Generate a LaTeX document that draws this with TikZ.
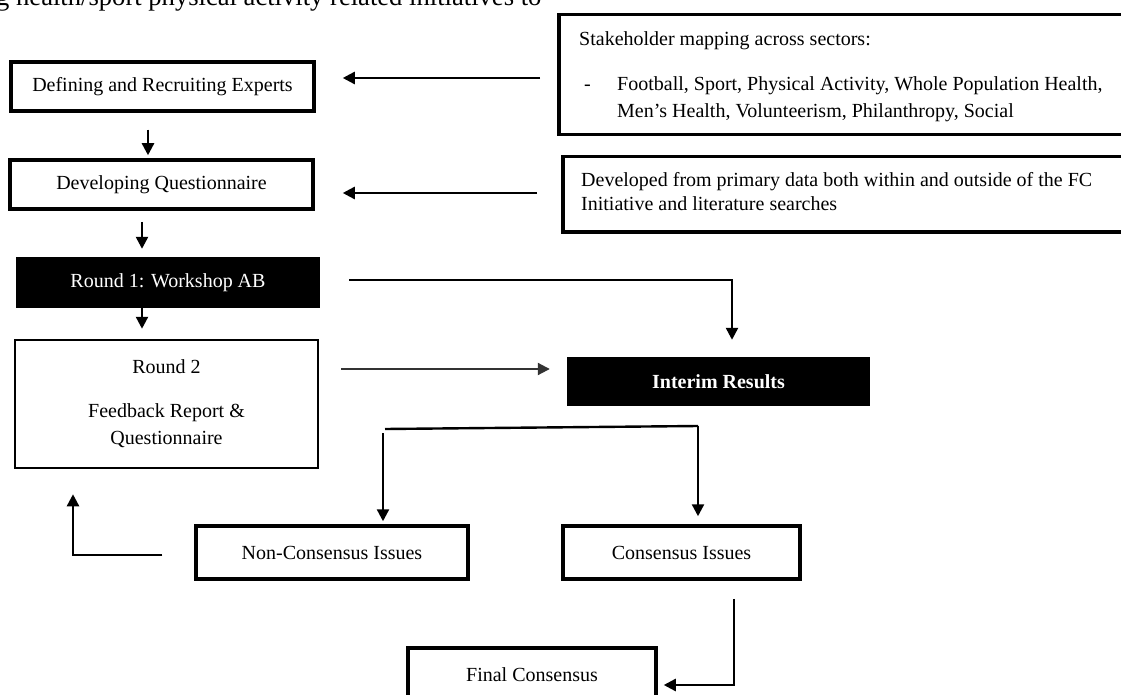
\documentclass[tikz,border=0pt]{standalone}
\usepackage{fontspec}
\setmainfont{Liberation Serif}
\usetikzlibrary{arrows.meta}

\begin{document}
\begin{tikzpicture}[x=1pt,y=-1pt,
  every node/.style={font=\fontsize{20}{27}\selectfont, inner sep=0pt},
  box/.style={draw, line width=3.5pt, rectangle},
  thinbox/.style={draw, line width=2.5pt, rectangle},
  darkbox/.style={fill=black, text=white, rectangle},
  link/.style={line width=2.4pt},
  arr/.style={line width=2.4pt, -{Triangle[length=12pt,width=12pt]}},
  thinarr/.style={line width=2pt, black!80, -{Triangle[length=12pt,width=12pt]}}]

\useasboundingbox (0,0) rectangle (1121,695);
\fill[white] (0,0) rectangle (1121,695);
\clip (0,0) rectangle (1121,695);

% running text of the page above the figure
\node[anchor=base west, font=\fontsize{26.6}{31}\selectfont] (caption) at (-4,6)
  {g health/sport physical activity related initiatives to};

% left column of process steps
\node[box, minimum width=303pt, minimum height=49pt] (def) at (162.5,86.5) {Defining and Recruiting Experts};
\node[box, minimum width=303pt, minimum height=49pt] (dev) at (161.5,184.5) {Developing Questionnaire};
\node[darkbox, minimum width=304pt, minimum height=51pt] (r1) at (168,282.5) {Round 1: Workshop AB};
\node[thinbox, minimum width=303pt, minimum height=128pt, align=center] (r2) at (166.5,404)
  {Round 2\\[17pt]Feedback Report \&\\Questionnaire};

% results and issues
\node[darkbox, font=\fontsize{20}{27}\selectfont\bfseries, minimum width=303pt, minimum height=49pt] (inter) at (718.5,381.5) {Interim Results};
\node[box, minimum width=272pt, minimum height=53pt] (nonc) at (332,552.5) {Non-Consensus Issues};
\node[box, minimum width=237pt, minimum height=53pt] (cons) at (681.5,552.5) {Consensus Issues};
\node[box, minimum width=248pt, minimum height=53pt] (final) at (532,674.5) {Final Consensus};

% input boxes on the right
\node[box, anchor=north west, minimum width=600pt, minimum height=120pt] (stake) at (557,13) {};
\node[anchor=base west] (stakehead) at (579,46) {Stakeholder mapping across sectors:};
\node[anchor=base west] (dash) at (584,91) {-};
\node[anchor=base west] (sectorsA) at (617,91) {Football, Sport, Physical Activity, Whole Population Health,};
\node[anchor=base west] (sectorsB) at (617,118) {Men’s Health, Volunteerism, Philanthropy, Social};

\node[box, anchor=north west, minimum width=600pt, minimum height=75pt] (source) at (561,155) {};
\node[anchor=base west] (sourceA) at (581,186) {Developed from primary data both within and outside of the FC};
\node[anchor=base west] (sourceB) at (581,211) {Initiative and literature searches};

% connectors
\draw[arr, shorten <=17pt, shorten >=27pt] (stake.west |- 0,78) -- (def.east |- 0,78);
\draw[arr, shorten <=24pt, shorten >=28pt] (source.west |- 0,193) -- (dev.east |- 0,193);

\draw[arr, shorten <=17pt, shorten >=3pt] (def.south -| 148,0) -- (dev.north -| 148,0);
\draw[arr, shorten <=11pt, shorten >=8pt] (dev.south -| 142,0) -- (r1.north -| 142,0);
\draw[arr, shorten >=10pt] (r1.south -| 142,0) -- (r2.north -| 142,0);

\draw[arr, shorten <=29pt, shorten >=17pt] (r1.east |- 0,280) -| (inter.north -| 732,0);
\draw[thinarr, shorten <=22pt, shorten >=17pt] (r2.east |- 0,369) -- (inter.west |- 0,369);

\coordinate (forkL) at (385,429);
\coordinate (forkR) at (698,426);
\coordinate (dropL) at (383,433);
\draw[link] (forkL) -- (forkR);
\draw[arr, shorten >=8pt] (forkR) -- (cons.north -| forkR);
\draw[arr, shorten >=3pt] (dropL) -- (nonc.north -| dropL);

\draw[arr, shorten <=32pt, shorten >=25pt] (nonc.west |- 0,555) -| (r2.south -| 73,0);
\draw[arr, shorten <=18pt, shorten >=6pt] (cons.south -| 734,0) |- (final.east |- 0,685);

\end{tikzpicture}
\end{document}
